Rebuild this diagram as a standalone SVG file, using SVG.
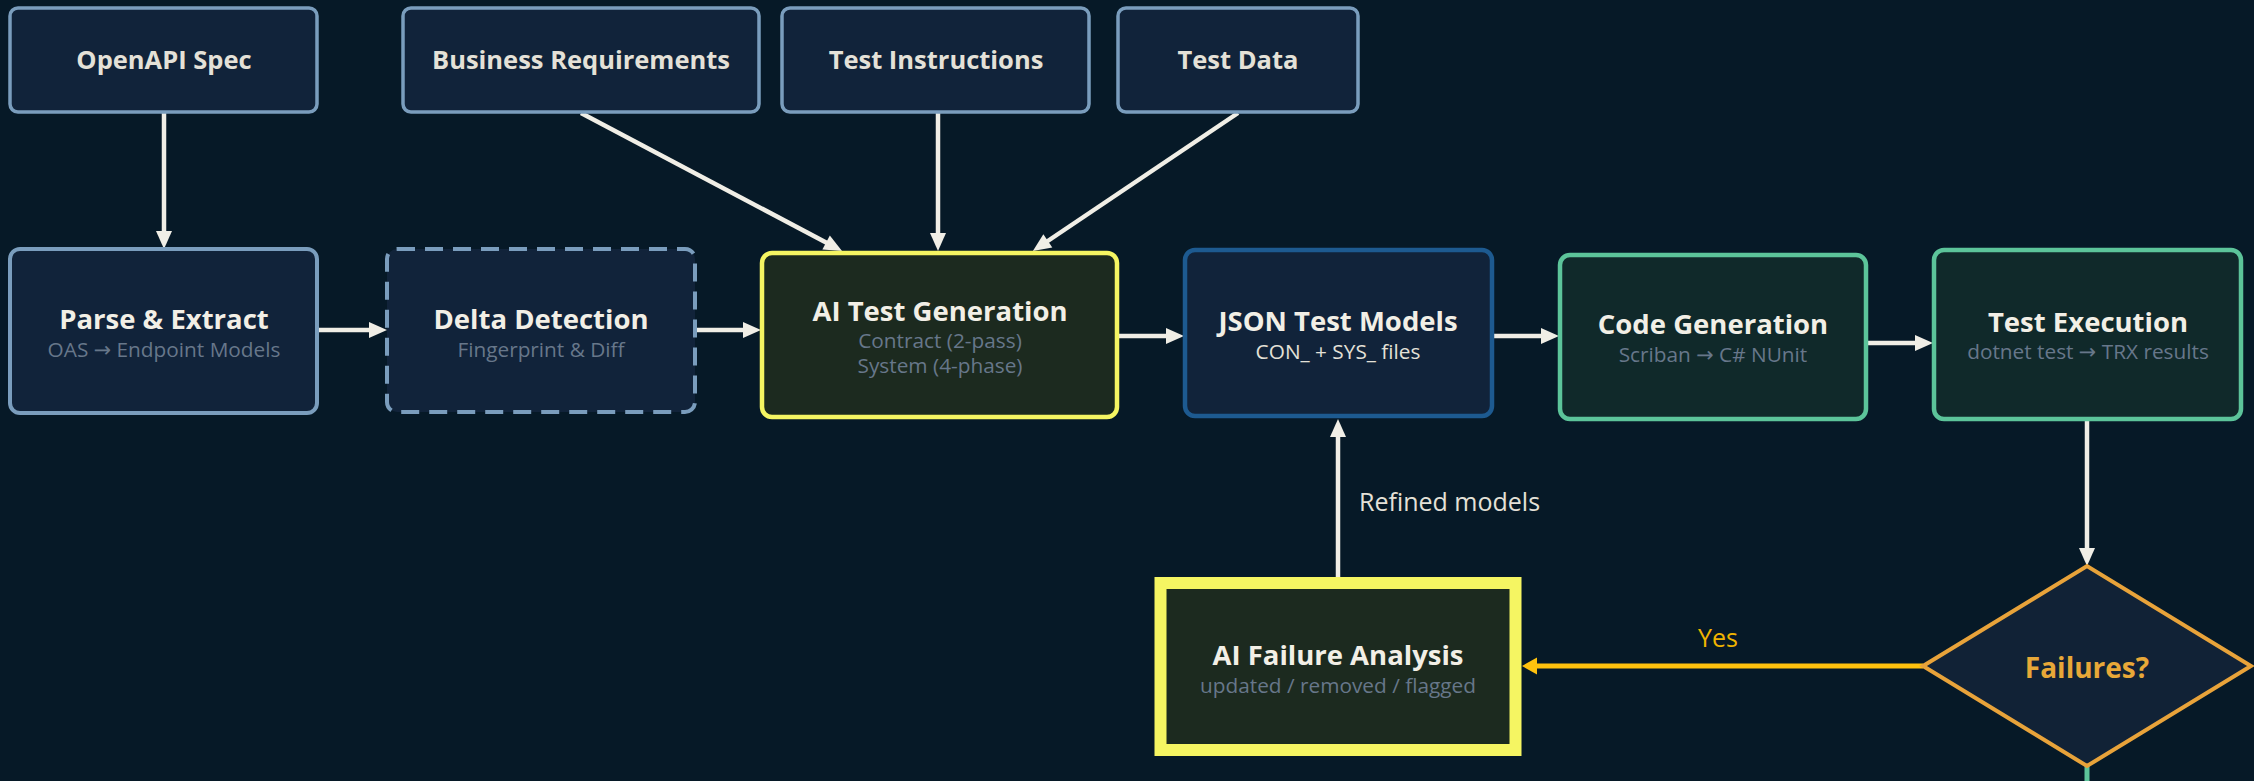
<svg xmlns="http://www.w3.org/2000/svg" width="2254" height="781" viewBox="0 0 2254 781">
  <defs>
    <style>
      text { font-family: "Open Sans", "Noto Sans", "DejaVu Sans", sans-serif; text-anchor: middle; }
      .input rect { fill: #11233a; stroke: #7a9dbd; stroke-width: 3.5; }
      .input text { font-size: 25.5px; font-weight: 700; fill: #e4e1d8; }
      .stage { fill: #11233a; stroke: #7a9dbd; stroke-width: 4; }
      .dashed { stroke-dasharray: 18 10; }
      .ai { fill: #1c2a1f; stroke: #f5f562; }
      .json { fill: #11233a; stroke: #1d5a90; stroke-width: 4.5; }
      .green { fill: #10292a; stroke: #5cc49a; stroke-width: 4.5; }
      .title { font-size: 27.5px; font-weight: 700; fill: #f2efe6; }
      .sub { font-size: 20.8px; fill: #67778a; }
      .sub-light { font-size: 20.8px; fill: #e4e1d8; }
      .edge { fill: none; stroke: #f0eee6; stroke-width: 4.5; }
      .edge-yes { fill: none; stroke: #ffc20e; stroke-width: 5; }
      .edge-no { fill: none; stroke: #5cc49a; stroke-width: 5; }
      .label { font-size: 25px; fill: #e4e1d8; }
    </style>
    <marker id="ah" markerUnits="userSpaceOnUse" markerWidth="18" markerHeight="16" refX="1" refY="8" orient="auto" overflow="visible">
      <path d="M0,0 L18,8 L0,16 z" fill="#f0eee6"/>
    </marker>
    <marker id="ah-yes" markerUnits="userSpaceOnUse" markerWidth="15" markerHeight="17" refX="1" refY="8.5" orient="auto" overflow="visible">
      <path d="M0,0 L15,8.5 L0,17 z" fill="#ffc20e"/>
    </marker>
  </defs>

  <rect x="0" y="0" width="2254" height="781" fill="#061927"/>

  <!-- connectors -->
  <g id="connectors">
    <path class="edge" d="M164,112 L164,232" marker-end="url(#ah)"/>
    <path class="edge" d="M581,113 L827,243" marker-end="url(#ah)"/>
    <path class="edge" d="M938,113 L938,234" marker-end="url(#ah)"/>
    <path class="edge" d="M1238,113 L1047,241.5" marker-end="url(#ah)"/>
    <path class="edge" d="M318,330 L370,330" marker-end="url(#ah)"/>
    <path class="edge" d="M697,330 L744,330" marker-end="url(#ah)"/>
    <path class="edge" d="M1119,336 L1167,336" marker-end="url(#ah)"/>
    <path class="edge" d="M1494,336 L1542,336" marker-end="url(#ah)"/>
    <path class="edge" d="M1868,343 L1916,343" marker-end="url(#ah)"/>
    <path class="edge" d="M2087,421 L2087,549" marker-end="url(#ah)"/>
    <path class="edge" d="M1338,577 L1338,436" marker-end="url(#ah)"/>
    <text class="label" x="1359" y="511" style="text-anchor:start">Refined models</text>
    <path class="edge-yes" d="M1923,666 L1536,666" marker-end="url(#ah-yes)"/>
    <text class="label" x="1718" y="647" style="fill:#f0b400">Yes</text>
    <path class="edge-no" d="M2087,766 L2087,790"/>
  </g>

  <!-- inputs -->
  <g id="openapi-spec" class="input">
    <rect x="10" y="8" width="307" height="104" rx="8"/>
    <text x="164" y="69">OpenAPI Spec</text>
  </g>
  <g id="business-requirements" class="input">
    <rect x="403" y="8" width="356" height="104" rx="8"/>
    <text x="581" y="69">Business Requirements</text>
  </g>
  <g id="test-instructions" class="input">
    <rect x="782" y="8" width="307" height="104" rx="8"/>
    <text x="936" y="69">Test Instructions</text>
  </g>
  <g id="test-data" class="input">
    <rect x="1118" y="8" width="240" height="104" rx="8"/>
    <text x="1238" y="69">Test Data</text>
  </g>

  <!-- pipeline stages -->
  <g id="parse-extract">
    <rect class="stage" x="10" y="249" width="307" height="164" rx="10"/>
    <text class="title" x="164" y="329">Parse &amp; Extract</text>
    <text class="sub" x="164" y="357">OAS → Endpoint Models</text>
  </g>
  <g id="delta-detection">
    <rect class="stage dashed" x="387" y="249" width="308" height="163" rx="10"/>
    <text class="title" x="541" y="329">Delta Detection</text>
    <text class="sub" x="541" y="357">Fingerprint &amp; Diff</text>
  </g>
  <g id="ai-test-generation">
    <rect class="ai" x="762" y="253" width="355" height="164" rx="10" stroke-width="4.5"/>
    <text class="title" x="940" y="321">AI Test Generation</text>
    <text class="sub" x="940" y="348">Contract (2-pass)</text>
    <text class="sub" x="940" y="373">System (4-phase)</text>
  </g>
  <g id="json-test-models">
    <rect class="json" x="1185" y="250" width="307" height="166" rx="10"/>
    <text class="title" x="1338" y="331">JSON Test Models</text>
    <text class="sub-light" x="1338" y="359">CON_ + SYS_ files</text>
  </g>
  <g id="code-generation">
    <rect class="green" x="1560" y="255" width="306" height="164" rx="10"/>
    <text class="title" x="1713" y="334">Code Generation</text>
    <text class="sub" x="1713" y="362">Scriban → C# NUnit</text>
  </g>
  <g id="test-execution">
    <rect class="green" x="1934" y="250" width="307" height="169" rx="10"/>
    <text class="title" x="2088" y="332">Test Execution</text>
    <text class="sub" x="2088" y="359">dotnet test → TRX results</text>
  </g>
  <g id="failures-decision">
    <polygon points="1923,666 2087,566 2251,666 2087,766" fill="#112236" stroke="#e8a33a" stroke-width="4"/>
    <text x="2087" y="678" style="font-size:28px;font-weight:700;fill:#e8a838">Failures?</text>
  </g>
  <g id="ai-failure-analysis">
    <rect class="ai" x="1160.5" y="583" width="355" height="167" stroke-width="12"/>
    <text class="title" x="1338" y="665">AI Failure Analysis</text>
    <text class="sub" x="1338" y="693">updated / removed / flagged</text>
  </g>
</svg>
